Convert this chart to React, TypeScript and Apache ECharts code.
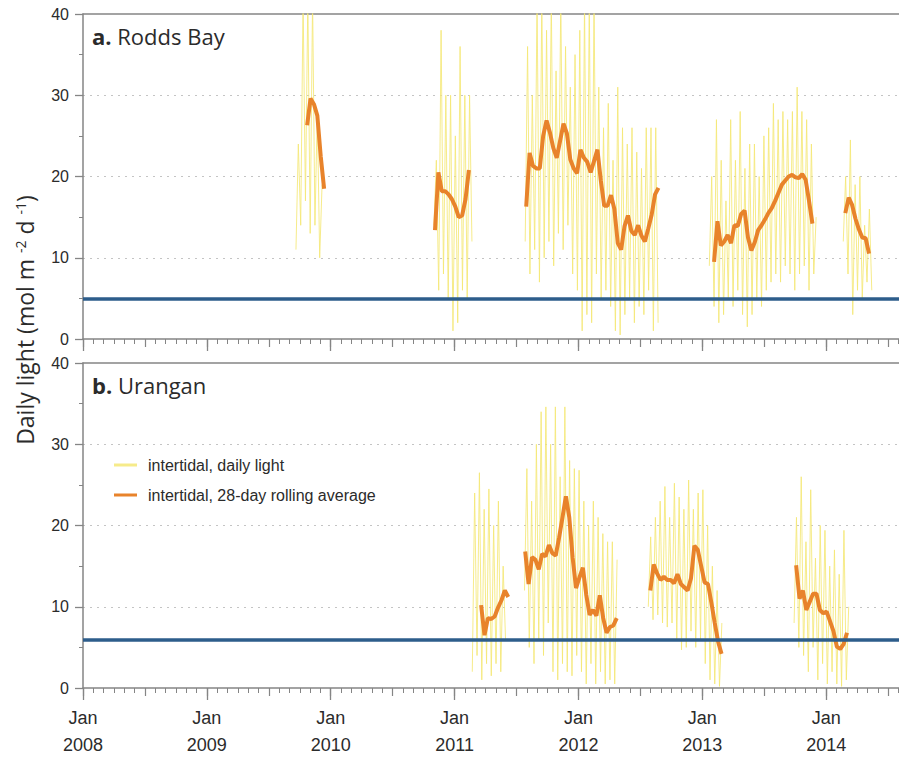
import React, { useEffect, useRef } from 'react';
import * as echarts from 'echarts';

// ---------- axis constants ----------
const DAY_MS = 86400000;
const ORIGIN = Date.UTC(2008, 0, 1);
const YEAR_DAYS = 365.25;
const X_MAX_DAYS = 7 * YEAR_DAYS; // Jan 2008 .. Jan 2015 (visible part ends mid-2014)
const DAILY_STEP_DAYS = 7;
const AVG_STEP_DAYS = 10;

const yTickMax = 40;
const yTickStep = 10;
const thresholds = [5, 6]; // Rodds Bay, Urangan

const seriesNames = ['intertidal, daily light', 'intertidal, 28-day rolling average'];
const panelTitles = ['Rodds Bay', 'Urangan'];
const panelLetters = ['a.', 'b.'];

// ---------- a. Rodds Bay: daily light (7-day sample spacing) ----------
const rbDailyStarts = ['2009-09-20', '2010-11-01', '2011-07-28', '2013-01-21', '2014-02-20'];
const rbDaily2009 = [11, 24, 14, 42, 17, 42, 13, 42, 14, 28, 10, 19];
const rbDaily2010 = [14, 22, 6, 38, 8, 30, 5, 30, 1, 25, 2, 36, 6, 30, 5, 30, 12];
const rbDaily2011 = [12, 36, 8, 30, 11, 42, 7, 42, 10, 38, 12, 42, 9, 33, 13, 42, 11, 36, 14, 31, 8, 35, 6, 38, 1, 42, 3, 42, 2, 42, 8, 31, 5, 26, 6, 29, 4, 22, 1, 31, 0.5, 26, 3, 24, 5, 26, 2, 23, 4, 21, 3, 26, 6, 26, 1, 26, 2];
const rbDaily2013 = [9, 20, 4, 27, 2, 22, 3, 17, 5, 27, 4, 22, 6, 28, 3, 21, 1.5, 24, 3, 24, 5, 20, 4, 25, 6, 26, 7, 29, 8, 27, 7, 28, 9, 27, 8, 28, 6, 31, 8, 28, 9, 27, 6, 24, 8, 15];
const rbDaily2014 = [12, 20, 8, 24.5, 3, 19, 6, 20, 5, 14, 7, 16, 6];

// ---------- a. Rodds Bay: 28-day rolling average (10-day sample spacing) ----------
const rbAvgStarts = ['2009-10-23', '2010-11-04', '2011-07-31', '2013-02-04', '2014-02-26'];
const rbAvg2009 = [26.3, 29.6, 28.9, 27.5, 22.5, 18.5];
const rbAvg2010 = [13.4, 20.5, 18.2, 18.2, 17.8, 17.2, 16.3, 15, 15.2, 17.2, 20.8];
const rbAvg2011 = [16.3, 22.9, 21.3, 21, 21, 25, 26.9, 25.4, 23.5, 22.3, 24.4, 26.5, 25.3, 22.1, 21, 20.4, 23.3, 22.3, 21.8, 20.5, 21.9, 23.3, 19.5, 16.4, 16.4, 17.7, 16, 11.8, 11, 13.9, 15.2, 13.3, 12.8, 14, 12.7, 12, 13.6, 15.3, 17.8, 18.6];
const rbAvg2013 = [9.5, 14.5, 11.5, 12, 12.8, 11.8, 14, 13.9, 15.4, 15.8, 12.5, 10.9, 11.9, 13.4, 14, 14.7, 15.5, 16.1, 17, 18, 19, 19.5, 20, 20.2, 19.9, 19.8, 20.3, 19.6, 17, 14.2];
const rbAvg2014 = [15.5, 17.4, 16.5, 14.8, 13.5, 12.5, 12.4, 10.5];

// ---------- b. Urangan: daily light ----------
const urDailyStarts = ['2011-02-22', '2011-07-26', '2012-07-25', '2013-09-28'];
const urDaily2011a = [2, 24, 4, 26.5, 1, 22, 3, 24.5, 1.5, 20, 3, 23, 2, 15, 6];
const urDaily2011b = [12, 27, 5, 23, 3, 30, 6, 34, 4, 34.6, 8, 30, 2, 34.6, 1, 26, 3, 34.6, 2, 28, 1.5, 27, 4, 26.8, 2, 23, 0.5, 20, 3, 23, 0.5, 21, 2, 19, 0.5, 18, 1, 18, 0.5, 15.8];
const urDaily2012 = [10, 18.6, 8.4, 21, 9, 23, 8, 24.8, 7.5, 21, 8, 25.2, 6, 23.5, 4.7, 22, 5, 25.6, 7, 22, 5, 24, 6, 24.4, 3, 20, 1, 15, 0.5, 12, 0.2, 8];
const urDaily2013 = [8, 21, 5, 26, 4, 18, 2, 24.4, 5, 16, 1, 20, 3, 19.4, 0.5, 15, 2, 17, 0.5, 14, 0.2, 19.4, 1, 10];

// ---------- b. Urangan: 28-day rolling average ----------
const urAvgStarts = ['2011-03-20', '2011-07-28', '2012-07-31', '2013-10-04'];
const urAvg2011a = [10.2, 6.5, 8.6, 8.5, 8.8, 9.9, 10.8, 12, 11.2];
const urAvg2011b = [16.8, 12.8, 16.1, 15.8, 14.6, 16.5, 16.2, 17.6, 16.6, 16.3, 18.5, 21, 23.6, 21, 16, 12.3, 13.6, 14.8, 11.5, 9, 9.6, 8.9, 11.4, 8.6, 6.8, 7.5, 7.7, 8.6];
const urAvg2012 = [12, 15.2, 14.1, 13.3, 13.7, 13.3, 13.3, 12.9, 14, 12.8, 12.4, 12, 13.5, 17.5, 17, 15, 13, 12.8, 10.5, 8, 5.7, 4.2];
const urAvg2013 = [15.1, 11, 12, 9.6, 10.6, 11.6, 11.6, 9.6, 9.2, 9.4, 8.2, 7, 5.1, 4.8, 5.4, 6.8];

// ---------- styles ----------
const AXIS_COLOR = '#858585';
const TEXT_COLOR = '#2b2b2b';
const DAILY_COLOR = 'rgba(245, 232, 118, 0.85)';
const AVG_COLOR = '#E8832B';
const THRESH_COLOR = '#2D5D8B';
const FONT = '"Liberation Sans", Arial, sans-serif';
const TITLE_FONT = '"Open Sans", "Noto Sans", sans-serif';

function build(starts: string[], segs: number[][], stepDays: number) {
  const out: any[] = [];
  segs.forEach((vals, s) => {
    const d0 = (Date.parse(starts[s]) - ORIGIN) / DAY_MS;
    vals.forEach((v, i) => out.push([d0 + i * stepDays, v]));
    out.push([d0 + vals.length * stepDays, '-']);
  });
  return out;
}

function xAxesFor(gridIndex: number, showLabels: boolean) {
  return [
    {
      type: 'value', gridIndex, position: 'bottom', min: 0, max: X_MAX_DAYS, interval: YEAR_DAYS,
      axisLine: { show: true, onZero: false, lineStyle: { color: AXIS_COLOR, width: 1.5 } },
      axisTick: { show: true, length: 12, lineStyle: { color: AXIS_COLOR, width: 1.3 } },
      minorTick: { show: true, splitNumber: 12, length: 5, lineStyle: { color: AXIS_COLOR, width: 1 } },
      axisLabel: showLabels
        ? {
            show: true, margin: 16, fontSize: 18, lineHeight: 27, color: TEXT_COLOR, fontFamily: FONT,
            showMaxLabel: false,
            formatter: (v: number) => (v > 6.5 * YEAR_DAYS ? '' : 'Jan\n' + (2008 + Math.round(v / YEAR_DAYS))),
          }
        : { show: false },
      splitLine: { show: false },
    },
    {
      type: 'value', gridIndex, position: 'bottom', min: 0, max: X_MAX_DAYS, interval: YEAR_DAYS / 2,
      axisLine: { show: false, onZero: false },
      axisTick: { show: true, length: 8, lineStyle: { color: AXIS_COLOR, width: 1.2 } },
      axisLabel: { show: false },
      splitLine: { show: false },
    },
    {
      type: 'value', gridIndex, position: 'top', min: 0, max: 1,
      axisLine: { show: true, onZero: false, lineStyle: { color: AXIS_COLOR, width: 1.5 } },
      axisTick: { show: false },
      axisLabel: { show: false },
      splitLine: { show: false },
    },
  ];
}

function yAxisFor(gridIndex: number) {
  return {
    type: 'value', gridIndex, min: 0, max: yTickMax, interval: yTickStep,
    axisLine: { show: true, onZero: false, lineStyle: { color: AXIS_COLOR, width: 1.5 } },
    axisTick: { show: true, length: 8, lineStyle: { color: AXIS_COLOR, width: 1.3 } },
    minorTick: { show: true, splitNumber: 2, length: 4, lineStyle: { color: AXIS_COLOR, width: 1 } },
    axisLabel: { fontSize: 16, color: TEXT_COLOR, margin: 14, fontFamily: FONT },
    splitLine: {
      show: true, showMinLine: false, showMaxLine: false,
      lineStyle: { color: '#c4c4c4', type: [2, 5], width: 1 },
    },
  };
}

function thresholdLine(v: number) {
  return {
    silent: true, symbol: ['none', 'none'], label: { show: false },
    lineStyle: { color: THRESH_COLOR, width: 3.5, type: 'solid' },
    data: [{ yAxis: v }],
  };
}

const rbDaily = build(rbDailyStarts, [rbDaily2009, rbDaily2010, rbDaily2011, rbDaily2013, rbDaily2014], DAILY_STEP_DAYS);
const rbAvg = build(rbAvgStarts, [rbAvg2009, rbAvg2010, rbAvg2011, rbAvg2013, rbAvg2014], AVG_STEP_DAYS);
const urDaily = build(urDailyStarts, [urDaily2011a, urDaily2011b, urDaily2012, urDaily2013], DAILY_STEP_DAYS);
const urAvg = build(urAvgStarts, [urAvg2011a, urAvg2011b, urAvg2012, urAvg2013], AVG_STEP_DAYS);

function panelTitle(i: number, y: number) {
  return {
    type: 'text', x: 92, y,
    style: {
      text: '{b|' + panelLetters[i] + '} ' + panelTitles[i],
      fontSize: 22, fontFamily: TITLE_FONT, fill: TEXT_COLOR, verticalAlign: 'middle',
      rich: { b: { fontSize: 22, fontFamily: TITLE_FONT, fontWeight: 'bold', fill: TEXT_COLOR } },
    },
  };
}

const option: any = {
  animation: false,
  backgroundColor: '#ffffff',
  grid: [
    { left: 83, right: 10, top: 14, height: 325 },
    { left: 83, right: 10, top: 363, height: 325 },
  ],
  xAxis: [...xAxesFor(0, false), ...xAxesFor(1, true)],
  yAxis: [yAxisFor(0), yAxisFor(1)],
  legend: {
    orient: 'vertical', left: 109, top: 452, itemWidth: 23, itemHeight: 3, itemGap: 14,
    data: [
      { name: seriesNames[0], icon: 'rect' },
      { name: seriesNames[1], icon: 'rect' },
    ],
    textStyle: { fontSize: 16, color: TEXT_COLOR, fontFamily: FONT, padding: [0, 0, 0, 6] },
  },
  series: [
    {
      name: seriesNames[0], type: 'line', xAxisIndex: 0, yAxisIndex: 0, data: rbDaily,
      symbol: 'none', lineStyle: { color: DAILY_COLOR, width: 1 }, itemStyle: { color: DAILY_COLOR }, z: 2,
      markLine: thresholdLine(thresholds[0]),
    },
    {
      name: seriesNames[1], type: 'line', xAxisIndex: 0, yAxisIndex: 0, data: rbAvg,
      symbol: 'none', lineStyle: { color: AVG_COLOR, width: 4 }, itemStyle: { color: AVG_COLOR }, z: 3,
    },
    {
      name: seriesNames[0], type: 'line', xAxisIndex: 3, yAxisIndex: 1, data: urDaily,
      symbol: 'none', lineStyle: { color: DAILY_COLOR, width: 1 }, itemStyle: { color: DAILY_COLOR }, z: 2,
      markLine: thresholdLine(thresholds[1]),
    },
    {
      name: seriesNames[1], type: 'line', xAxisIndex: 3, yAxisIndex: 1, data: urAvg,
      symbol: 'none', lineStyle: { color: AVG_COLOR, width: 4 }, itemStyle: { color: AVG_COLOR }, z: 3,
    },
  ],
  graphic: [
    panelTitle(0, 36),
    panelTitle(1, 385),
    {
      type: 'text', x: 25, y: 320, rotation: Math.PI / 2,
      style: {
        text: 'Daily light (mol m {sup|-2} d {sup|-1})',
        fontSize: 23, fontFamily: TITLE_FONT, fill: TEXT_COLOR, align: 'center', verticalAlign: 'middle',
        rich: { sup: { fontSize: 14, fontFamily: TITLE_FONT, fill: TEXT_COLOR, verticalAlign: 'top' } },
      },
    },
  ],
};

export default function App() {
  const ref = useRef<HTMLDivElement>(null);
  useEffect(() => {
    const chart = echarts.init(ref.current as HTMLDivElement, null, { renderer: 'svg' });
    chart.setOption(option);
    return () => chart.dispose();
  }, []);
  return (
    <div style={{ position: 'fixed', left: 0, top: 0, width: 899, height: 762, overflow: 'hidden', background: '#fff' }}>
      <div ref={ref} style={{ width: 960, height: 762 }} />
    </div>
  );
}
